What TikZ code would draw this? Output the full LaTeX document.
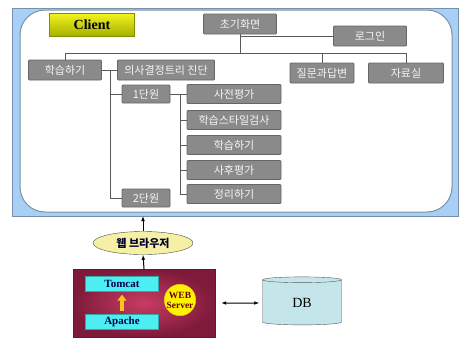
\documentclass[tikz,border=0pt]{standalone}
\usepackage{fontspec}
\setmainfont{Liberation Serif}
\newfontfamily\kr{Noto Sans CJK KR}
\usepackage{xcolor}
\usepackage{tikz}
\usetikzlibrary{arrows.meta, shapes.geometric}

\definecolor{frameblue}{HTML}{A8CFF5}
\definecolor{frameline}{HTML}{7890A8}
\definecolor{menugray}{HTML}{8A8A8A}
\definecolor{menuedge}{HTML}{666666}
\definecolor{linegray}{HTML}{5A5A5A}
\definecolor{clientlight}{HTML}{F2F21C}
\definecolor{clientdark}{HTML}{A4B000}
\definecolor{serverin}{HTML}{C83C62}
\definecolor{serverout}{HTML}{7E1A3A}
\definecolor{tomcatcyan}{HTML}{4CEEF2}
\definecolor{browseryellow}{HTML}{F6F0A4}
\definecolor{dbcyan}{HTML}{C4E6EA}
\definecolor{arrowyellow}{HTML}{FFC21A}

\begin{document}
\begin{tikzpicture}[x=1pt, y=-1pt,
    menu/.style={draw=menuedge, fill=menugray, line width=0.8pt, rounded corners=1pt,
      text=white!92!gray, font=\kr\fontsize{11}{12}\selectfont,
      minimum height=20pt, inner sep=0pt},
    link/.style={draw=linegray, line width=1pt},
    module/.style={fill=tomcatcyan, draw=tomcatcyan!70!black, text=blue!30!black,
      font=\bfseries\fontsize{11}{12}\selectfont,
      minimum width=73pt, minimum height=15pt, inner sep=0pt},
    flow/.style={-{Latex[length=5pt]}, line width=1pt}]
    \useasboundingbox (0,0) rectangle (462,338);

    % Client frame
    \draw[frameline, fill=frameblue] (12,8) rectangle (458,216);
    \draw[frameline, fill=white, line width=1pt, rounded corners=25pt] (20,10) rectangle (452,212);
    \node[draw=clientdark!80!black, top color=clientlight, bottom color=clientdark,
      minimum width=85pt, minimum height=23pt,
      font=\bfseries\fontsize{14}{16}\selectfont] (client) at (92,25) {Client};

    % Menu boxes
    \node[menu, minimum width=73pt] (start) at (240,24) {초기화면};
    \node[menu, minimum width=73pt] (login) at (370,36) {로그인};
    \node[menu, minimum width=73pt] (study) at (65,70) {학습하기};
    \node[menu, minimum width=97pt] (diag) at (166,70) {의사결정트리 진단};
    \node[menu, minimum width=64pt] (qna) at (322,73) {질문과답변};
    \node[menu, minimum width=75pt] (archive) at (406,73) {자료실};
    \node[menu, minimum width=48pt, minimum height=18pt] (unit1) at (146,94) {1단원};
    \node[menu, minimum width=48pt, minimum height=18pt] (unit2) at (146,198) {2단원};
    \foreach \name/\y/\label in {pre/94/사전평가, lstyle/120/학습스타일검사,
        learn/145/학습하기, post/170/사후평가, review/194/정리하기}
      \node[menu, minimum width=94pt, minimum height=19pt] (\name) at (234,\y) {\label};

    % Tree lines
    \coordinate (bus) at (0,53);
    \coordinate (spine) at (110,70);
    \coordinate (subspine) at (180,94);
    \draw[link] (start.south) -- (start.south |- bus);
    \draw[link] (login.west) -- (login.west -| start.south);
    \draw[link] (study.north) |- (archive.north |- bus) -- (archive.north);
    \draw[link] (qna.north) -- (qna.north |- bus);
    \draw[link] (study.east) -- (diag.west);
    \draw[link] (spine) |- (unit1.west);
    \draw[link] (spine) |- (unit2.west);
    \draw[link] (unit1.east) -- (pre.west);
    \foreach \name in {lstyle, learn, post, review}
      \draw[link] (subspine) |- (\name.west);

    % Browser and server
    \coordinate (clientbot) at (143,216);
    \node[ellipse, draw=gray!60!black, fill=browseryellow, minimum width=100pt,
      minimum height=23pt, inner sep=0pt, text=blue!20!black,
      font=\kr\bfseries\fontsize{11}{12}\selectfont] (browser) at (143,243) {웹 브라우저};
    \node[draw=serverout!80!black, inner color=serverin, outer color=serverout,
      minimum width=142pt, minimum height=68pt] (server) at (144,303) {};
    \node[module] (tomcat) at (122,284) {Tomcat};
    \node[module] (apache) at (122,322) {Apache};
    \draw[-{Triangle[length=6pt, width=9pt]}, line width=3.5pt, arrowyellow,
      shorten <=3pt, shorten >=3pt] (apache) -- (tomcat);
    \node[circle, fill=yellow, draw=yellow!70!orange, minimum size=30pt, inner sep=0pt,
      align=center, text=red!40!black,
      font=\bfseries\fontsize{9.5}{10}\selectfont] (web) at (180,300) {WEB\\Server};
    \node[cylinder, shape border rotate=90, aspect=0.22, draw=gray!70!black, fill=dbcyan,
      minimum width=79pt, minimum height=48pt,
      font=\fontsize{14}{16}\selectfont] (db) at (302,303) {DB};

    % Arrows
    \draw[flow] (browser.north) -- (clientbot);
    \draw[flow] (server.north) -- (browser.south);
    \draw[{Latex[length=5pt]}-{Latex[length=5pt]}, line width=1pt,
      shorten <=6pt, shorten >=3pt] (server.east) -- (db.west);
\end{tikzpicture}
\end{document}
